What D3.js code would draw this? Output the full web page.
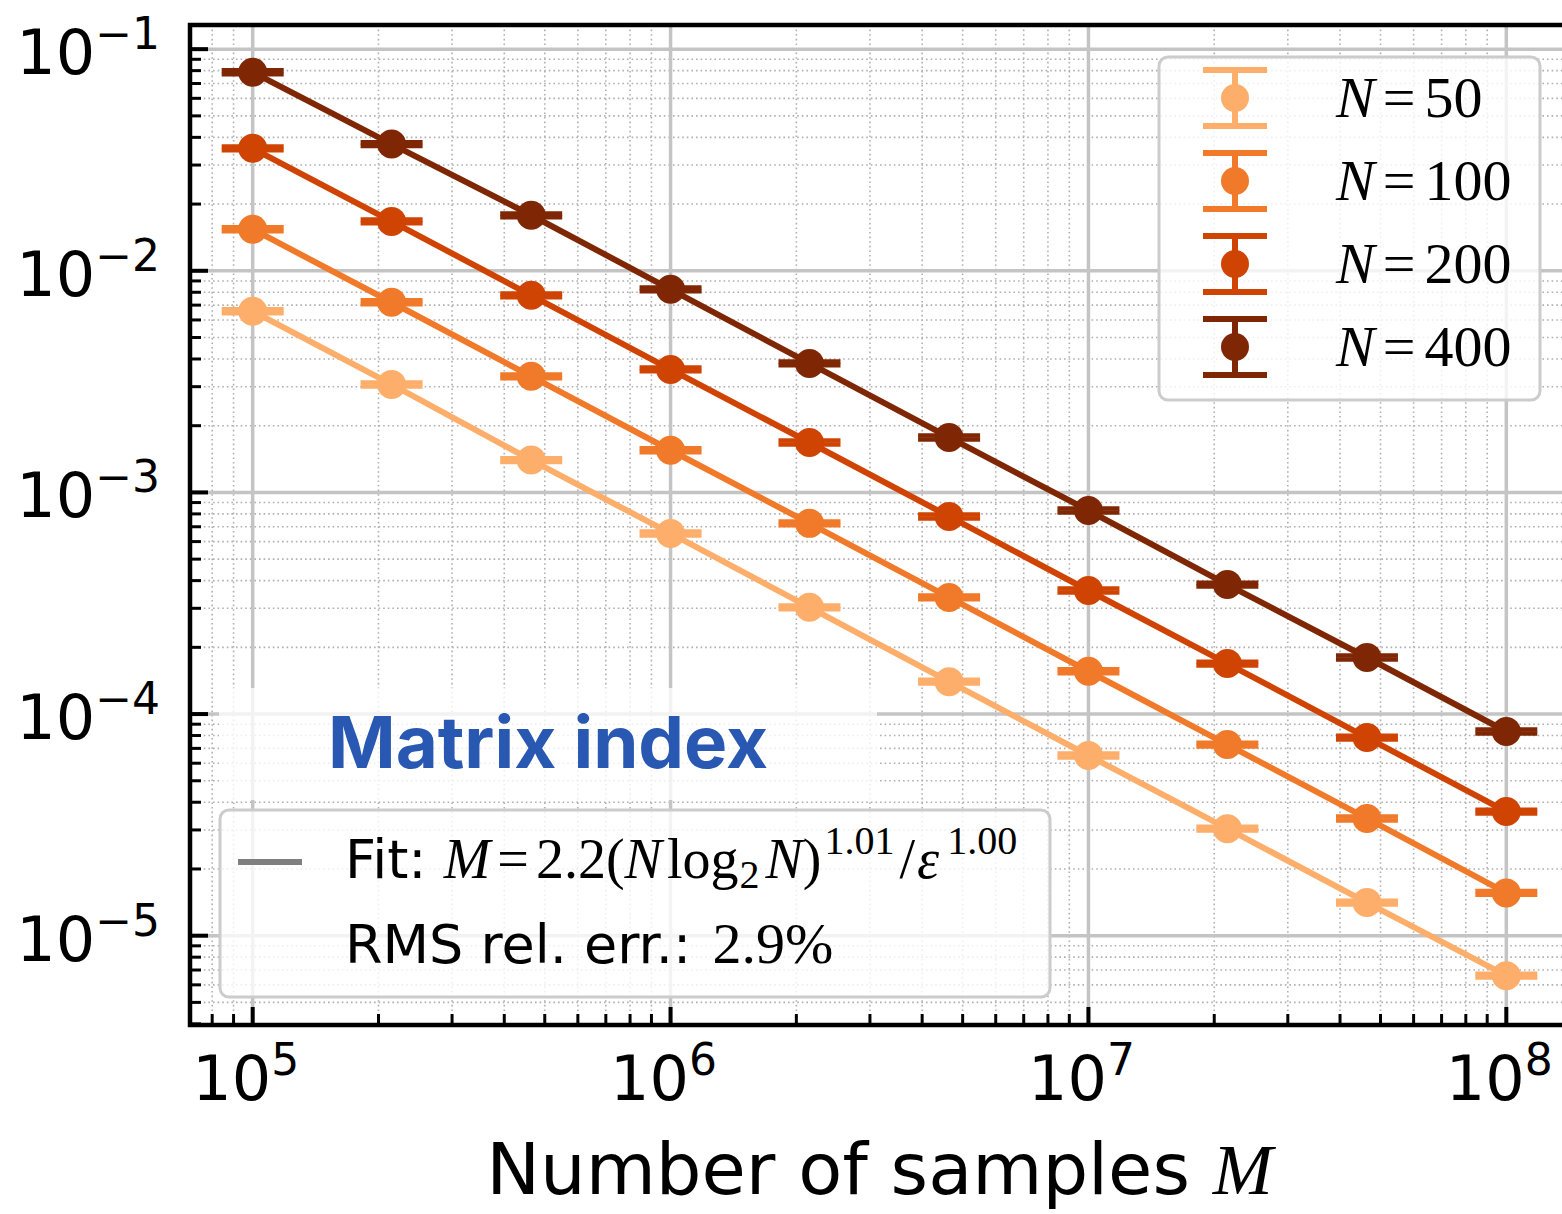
<!DOCTYPE html>
<html>
<head>
<meta charset="utf-8">
<script src="https://cdn.jsdelivr.net/npm/d3@7"></script>
<style>
  html, body { margin: 0; padding: 0; background: #fff; }
  svg { display: block; }
</style>
</head>
<body>
<svg id="chart" width="1562" height="1214"></svg>
<script>
// Number of samples M (three points per decade)
const samples = [1e5, 2.15e5, 4.64e5, 1e6, 2.15e6, 4.64e6, 1e7, 2.15e7, 4.64e7, 1e8];

// Series labels (problem size N) and their colours
const seriesN = ["50", "100", "200", "400"];
const seriesColors = ["#fdae6b", "#f07a2a", "#cf4403", "#7f2704"];

// Error epsilon for each N
const errN50  = [6.57e-3, 3.07e-3, 1.40e-3, 6.53e-4, 3.03e-4, 1.40e-4, 6.50e-5, 3.04e-5, 1.41e-5, 6.60e-6];
const errN100 = [1.54e-2, 7.21e-3, 3.34e-3, 1.55e-3, 7.25e-4, 3.36e-4, 1.56e-4, 7.28e-5, 3.38e-5, 1.56e-5];
const errN200 = [3.57e-2, 1.67e-2, 7.75e-3, 3.59e-3, 1.68e-3, 7.79e-4, 3.61e-4, 1.69e-4, 7.83e-5, 3.63e-5];
const errN400 = [7.87e-2, 3.73e-2, 1.78e-2, 8.25e-3, 3.82e-3, 1.77e-3, 8.29e-4, 3.84e-4, 1.80e-4, 8.34e-5];

// Relative half-width of the error bars for each series
const relSpread = [0.02, 0.02, 0.02, 0.02];

// Axis ticks
const xTickValues = [1e5, 1e6, 1e7, 1e8];
const xTickExp = ["5", "6", "7", "8"];
const yTickValues = [1e-1, 1e-2, 1e-3, 1e-4, 1e-5];
const yTickExp = ["\u22121", "\u22122", "\u22123", "\u22124", "\u22125"];

const seriesValues = [errN50, errN100, errN200, errN400];

const svg = d3.select("#chart");
const L = 190, R = 1569, T = 25, B = 1025;

const x = d3.scaleLog().domain([Math.pow(10, 4.85), Math.pow(10, 8.15)]).range([L, R]);
const y = d3.scaleLog().domain([Math.pow(10, -5.403), Math.pow(10, -0.891)]).range([B, T]);

const isMajor = v => Math.abs(Math.log10(v) - Math.round(Math.log10(v))) < 1e-9;
const xAll = x.ticks().filter(v => v >= x.domain()[0] && v <= x.domain()[1]);
const yAll = y.ticks().filter(v => v >= y.domain()[0] && v <= y.domain()[1]);
const xMinor = xAll.filter(v => !isMajor(v));
const yMinor = yAll.filter(v => !isMajor(v));

svg.append("defs").append("clipPath").attr("id", "plotClip")
  .append("rect").attr("x", L).attr("y", T).attr("width", R - L).attr("height", B - T);

const plot = svg.append("g").attr("clip-path", "url(#plotClip)");

// minor grid (dotted)
const gMinor = plot.append("g").attr("stroke", "#b0b0b0").attr("stroke-width", 1.6)
  .attr("stroke-dasharray", "1.6 3").attr("fill", "none");
gMinor.selectAll("line.vx").data(xMinor).join("line").attr("class", "vx")
  .attr("x1", d => x(d)).attr("x2", d => x(d)).attr("y1", T).attr("y2", B);
gMinor.selectAll("line.hy").data(yMinor).join("line").attr("class", "hy")
  .attr("x1", L).attr("x2", R).attr("y1", d => y(d)).attr("y2", d => y(d));

// major grid (solid)
const gMajor = plot.append("g").attr("stroke", "#c4c4c4").attr("stroke-width", 3.5);
gMajor.selectAll("line.vx").data(xTickValues).join("line").attr("class", "vx")
  .attr("x1", d => x(d)).attr("x2", d => x(d)).attr("y1", T).attr("y2", B);
gMajor.selectAll("line.hy").data(yTickValues).join("line").attr("class", "hy")
  .attr("x1", L).attr("x2", R).attr("y1", d => y(d)).attr("y2", d => y(d));

// "Matrix index" annotation with its translucent box
plot.append("rect").attr("x", 219).attr("y", 688).attr("width", 658).attr("height", 112)
  .attr("fill", "#fff").attr("fill-opacity", 0.78);
plot.append("text").attr("x", 328).attr("y", 768)
  .attr("font-family", "Inter, 'Open Sans', sans-serif").attr("font-weight", 700)
  .attr("font-size", 72).attr("fill", "#2858b2")
  .attr("textLength", 440).attr("lengthAdjust", "spacingAndGlyphs")
  .text("Matrix index");

// data series: line, error caps, markers
const capHalf = 31;
const line = d3.line().x(d => x(d.m)).y(d => y(d.v));
seriesValues.forEach((vals, si) => {
  const pts = samples.map((m, i) => ({ m, v: vals[i], e: vals[i] * relSpread[si] }));
  const col = seriesColors[si];
  const g = plot.append("g");
  g.append("path").datum(pts).attr("d", line).attr("fill", "none")
    .attr("stroke", col).attr("stroke-width", 6).attr("stroke-linejoin", "round");
  g.selectAll("line.eb").data(pts).join("line").attr("class", "eb")
    .attr("x1", d => x(d.m)).attr("x2", d => x(d.m))
    .attr("y1", d => y(d.v - d.e)).attr("y2", d => y(d.v + d.e))
    .attr("stroke", col).attr("stroke-width", 6);
  [1, -1].forEach(s => {
    g.selectAll("line.cap" + (s > 0 ? "u" : "d")).data(pts).join("line")
      .attr("class", "cap" + (s > 0 ? "u" : "d"))
      .attr("x1", d => x(d.m) - capHalf).attr("x2", d => x(d.m) + capHalf)
      .attr("y1", d => y(d.v + s * d.e)).attr("y2", d => y(d.v + s * d.e))
      .attr("stroke", col).attr("stroke-width", 4.5);
  });
  g.selectAll("circle").data(pts).join("circle")
    .attr("cx", d => x(d.m)).attr("cy", d => y(d.v)).attr("r", 14.5).attr("fill", col);
});

// spines
svg.append("rect").attr("x", L).attr("y", T).attr("width", R - L).attr("height", B - T)
  .attr("fill", "none").attr("stroke", "#000").attr("stroke-width", 4.5);

// ticks (inward)
const gt = svg.append("g").attr("stroke", "#000");
gt.selectAll("line.xmaj").data(xTickValues).join("line").attr("class", "xmaj")
  .attr("x1", d => x(d)).attr("x2", d => x(d)).attr("y1", B).attr("y2", B - 18).attr("stroke-width", 4);
gt.selectAll("line.xmin").data(xMinor).join("line").attr("class", "xmin")
  .attr("x1", d => x(d)).attr("x2", d => x(d)).attr("y1", B).attr("y2", B - 11).attr("stroke-width", 3);
gt.selectAll("line.ymaj").data(yTickValues).join("line").attr("class", "ymaj")
  .attr("x1", L).attr("x2", L + 18).attr("y1", d => y(d)).attr("y2", d => y(d)).attr("stroke-width", 4);
gt.selectAll("line.ymin").data(yMinor).join("line").attr("class", "ymin")
  .attr("x1", L).attr("x2", L + 11).attr("y1", d => y(d)).attr("y2", d => y(d)).attr("stroke-width", 3);

// tick labels
const sans = "'DejaVu Sans', sans-serif";
const serif = "'Liberation Serif', 'DejaVu Serif', serif";
const yl = svg.append("g").attr("font-family", sans).attr("fill", "#000");
yTickValues.forEach((v, i) => {
  const t = yl.append("text").attr("x", 160).attr("y", y(v) + 25).attr("text-anchor", "end").attr("font-size", 62);
  t.append("tspan").text("10");
  t.append("tspan").attr("font-size", 44).attr("dy", -25).text(yTickExp[i]);
});
const xl = svg.append("g").attr("font-family", sans).attr("fill", "#000");
xTickValues.forEach((v, i) => {
  const t = xl.append("text").attr("x", x(v) - 7).attr("y", 1100).attr("text-anchor", "middle").attr("font-size", 62);
  t.append("tspan").text("10");
  t.append("tspan").attr("font-size", 44).attr("dy", -25).text(xTickExp[i]);
});

// x-axis title
const xt = svg.append("text").attr("x", (L + R) / 2).attr("y", 1194).attr("text-anchor", "middle")
  .attr("font-size", 72).attr("font-family", sans).attr("fill", "#000");
xt.append("tspan").text("Number of samples ");
xt.append("tspan").attr("font-family", serif).attr("font-style", "italic").text("M");

// series legend
const lg = svg.append("g");
lg.append("rect").attr("x", 1159).attr("y", 57).attr("width", 381).attr("height", 343).attr("rx", 9)
  .attr("fill", "#fff").attr("fill-opacity", 0.8).attr("stroke", "#cccccc").attr("stroke-width", 3);
const rowY = [98, 181, 264, 347];
seriesN.forEach((n, i) => {
  const cy = rowY[i], cx = 1235, col = seriesColors[i];
  lg.append("line").attr("x1", cx).attr("x2", cx).attr("y1", cy - 28).attr("y2", cy + 28)
    .attr("stroke", col).attr("stroke-width", 6);
  [-28, 28].forEach(o => lg.append("line").attr("x1", cx - 32).attr("x2", cx + 32)
    .attr("y1", cy + o).attr("y2", cy + o).attr("stroke", col).attr("stroke-width", 6));
  lg.append("circle").attr("cx", cx).attr("cy", cy).attr("r", 14).attr("fill", col);
  const t = lg.append("text").attr("x", 1336).attr("y", cy + 19).attr("font-family", serif)
    .attr("font-size", 58).attr("fill", "#000");
  t.append("tspan").attr("font-style", "italic").text("N");
  t.append("tspan").attr("dx", 8).text("=");
  t.append("tspan").attr("dx", 9).text(n);
});

// fit legend
const fg = svg.append("g");
fg.append("rect").attr("x", 220).attr("y", 810).attr("width", 830).attr("height", 187).attr("rx", 9)
  .attr("fill", "#fff").attr("fill-opacity", 0.8).attr("stroke", "#cccccc").attr("stroke-width", 3);
fg.append("line").attr("x1", 238).attr("x2", 302).attr("y1", 862).attr("y2", 862)
  .attr("stroke", "#7f7f7f").attr("stroke-width", 6);
const f1 = fg.append("text").attr("x", 345).attr("y", 878).attr("font-size", 56).attr("fill", "#000")
  .attr("font-family", serif);
f1.append("tspan").attr("font-family", sans).attr("font-size", 54).text("Fit: ");
f1.append("tspan").attr("font-style", "italic").text("M");
f1.append("tspan").attr("dx", 7).text("=");
f1.append("tspan").attr("dx", 7).text("2.2(");
f1.append("tspan").attr("font-style", "italic").text("N");
f1.append("tspan").attr("dx", 5).text("log");
f1.append("tspan").attr("font-size", 40).attr("dy", 10).attr("dx", 1).text("2");
f1.append("tspan").attr("font-style", "italic").attr("dy", -10).attr("dx", 6).text("N");
f1.append("tspan").text(")");
f1.append("tspan").attr("font-size", 40).attr("dy", -24).attr("dx", 3).text("1.01");
f1.append("tspan").attr("dy", 24).attr("dx", 5).text("/");
f1.append("tspan").attr("font-style", "italic").attr("dx", 2).text("\u03B5");
f1.append("tspan").attr("font-size", 40).attr("dy", -24).attr("dx", 8).text("1.00");
const f2 = fg.append("text").attr("x", 345).attr("y", 963).attr("font-size", 54).attr("fill", "#000")
  .attr("font-family", sans);
f2.append("tspan").text("RMS rel. err.: ");
f2.append("tspan").attr("font-family", serif).attr("font-size", 58).attr("dx", 4).text("2.9%");
</script>
</body>
</html>
